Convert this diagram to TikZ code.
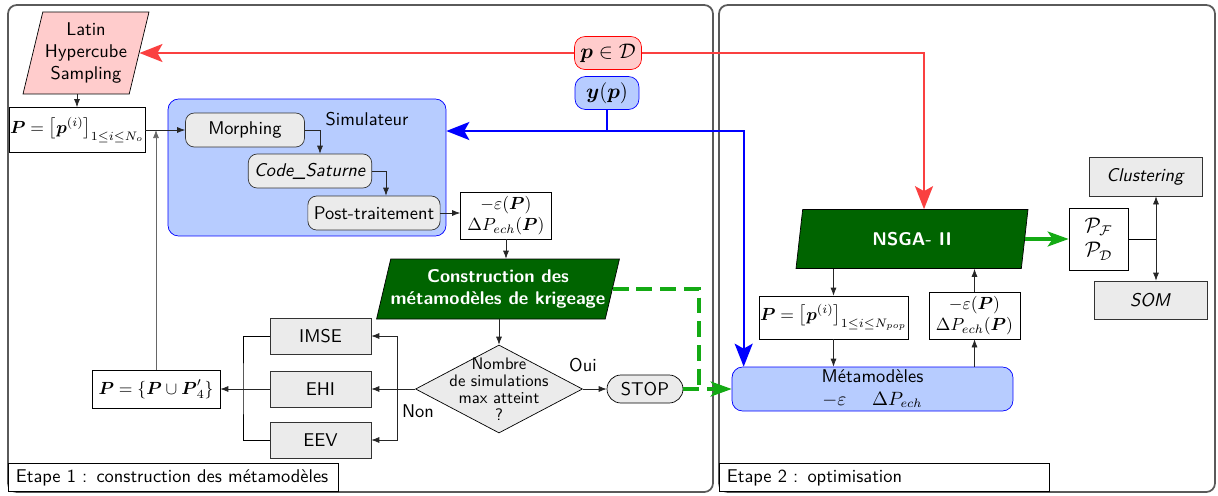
\documentclass[tikz,border=0pt]{standalone}
\usepackage{amsmath}
\usepackage{amssymb}
\usepackage{xcolor}
\usepackage{tikz}
\usetikzlibrary{shapes.geometric, arrows.meta, positioning, calc}

\definecolor{simblue}{RGB}{183,204,255}
\definecolor{lhsred}{RGB}{255,204,204}
\definecolor{redline}{RGB}{250,64,64}
\definecolor{darkgreen}{RGB}{0,100,0}
\definecolor{greenline}{RGB}{20,170,20}
\definecolor{framegray}{RGB}{90,90,90}
\newcommand{\diagfont}{\fontsize{10.5}{12.6}\selectfont\sffamily}

\begin{document}
\begin{tikzpicture}[x=0.02cm, y=-0.02cm, font=\diagfont]
    \tikzstyle{box} = [rectangle, draw=black, fill=white, text centered, inner sep=1pt]
    \tikzstyle{setbox} = [box, inner sep=0.5pt, font=\fontsize{10}{12}\selectfont]
    \tikzstyle{procbox} = [rectangle, rounded corners=5pt, draw=black!80, fill=black!8,
                           minimum height=0.68cm]
    \tikzstyle{graybox} = [rectangle, draw=black!80, fill=black!8,
                           minimum width=2.02cm, minimum height=0.72cm]
    \tikzstyle{greenpar} = [trapezium, trapezium stretches body, draw=black, fill=darkgreen,
                            text=white, font=\diagfont\bfseries, align=center, inner sep=0pt]
    \tikzstyle{bluebox} = [rectangle, rounded corners=6pt, draw=blue, fill=simblue]
    \tikzstyle{stageframe} = [draw=framegray, line width=1pt, rounded corners=5pt]
    \tikzstyle{stagelbl} = [rectangle, draw=black, fill=white, anchor=south west,
                            text width=6.3cm, align=left, inner xsep=0.15cm,
                            minimum height=0.5cm]
    \tikzstyle{arr} = [-{Latex[length=1.6mm,width=1.2mm]}, black!85]
    \tikzstyle{redarr} = [-{Stealth[length=4.6mm,width=3.6mm,inset=1mm]}, redline, line width=1.1pt]
    \tikzstyle{bluearr} = [-{Stealth[length=4.6mm,width=3.6mm,inset=1mm]}, blue, line width=1.2pt]
    \tikzstyle{greenarr} = [-{Stealth[length=4.2mm,width=3mm,inset=1mm]}, greenline, line width=1.8pt]
    \tikzstyle{gdash} = [greenline, line width=1.9pt, dash pattern=on 9pt off 4.5pt]

    \useasboundingbox (0,0) rectangle (1218,495);

    % cadres des deux etapes
    \draw[stageframe] (8,5) rectangle (713,492);
    \draw[stageframe] (719,5) rectangle (1215,492);
    \node (etape1) [stagelbl] at (8,492) {\mbox{Etape 1 : construction des métamodèles}};
    \node (etape2) [stagelbl] at (719,492) {Etape 2 : optimisation};

    % etape 1
    \node (LHS) [trapezium, trapezium left angle=72, trapezium right angle=108,
                 trapezium stretches body, draw=black, fill=lhsred, align=center,
                 inner sep=0pt, minimum width=2.52cm, minimum height=1.64cm]
                 at (86,53) {Latin\\Hypercube\\Sampling};
    \node (Pbox) [setbox, minimum width=2.62cm, minimum height=0.9cm] at (77,130)
          {$\boldsymbol{P}=\left[\boldsymbol{p}^{(i)}\right]_{1\leq i\leq N_o}$};
    \node (simu) [bluebox, minimum width=5.56cm, minimum height=2.74cm] at (307,167.5) {};
    \node (simlbl) at (367,119) {Simulateur};
    \node (morph) [procbox, minimum width=2.38cm] at (245,130) {Morphing};
    \node (code)  [procbox, minimum width=2.4cm]  at (310,171) {\textit{Code\_Saturne}};
    \node (post)  [procbox, minimum width=2.48cm] at (374,213) {Post-traitement};
    \node (epsa) [setbox, align=center, minimum width=1.82cm, minimum height=0.94cm] at (506,215.5)
          {$-\varepsilon(\boldsymbol{P})$\\$\Delta P_{ech}(\boldsymbol{P})$};
    \node (pD) [rectangle, rounded corners=6pt, draw=red, fill=lhsred, font=\large,
                minimum width=1.32cm, minimum height=0.66cm] at (608,53)
          {$\boldsymbol{p}\in\mathcal{D}$};
    \node (yp) [bluebox, font=\large, minimum width=1.28cm, minimum height=0.66cm] at (607,93)
          {$\boldsymbol{y}(\boldsymbol{p})$};
    \node (constr) [greenpar, trapezium left angle=70, trapezium right angle=110,
                    minimum width=4.72cm, minimum height=1.2cm] at (498,289)
          {Construction des\\métamodèles de krigeage};
    \node (diam) [diamond, draw=black, fill=black!8, inner sep=0pt,
                  minimum width=3.34cm, minimum height=1.76cm,
                  label={[font=\fontsize{9.5}{9.6}\selectfont\sffamily, align=center]center:{Nombre\\de simulations\\max atteint\\?}}]
                  at (499,389) {};
    \node (stop) [rectangle, rounded corners=2.8mm, draw=black, fill=black!8,
                  minimum width=1.52cm, minimum height=0.56cm] at (645,389) {STOP};
    \node (oui) at (583,365) {Oui};
    \node (non) at (418,411) {Non};
    \node (imse) [graybox] at (320.5,336) {IMSE};
    \node (ehi)  [graybox] at (320.5,389) {EHI};
    \node (eev)  [graybox] at (320.5,440) {EEV};
    \node (Pu) [setbox, minimum width=2.56cm, minimum height=0.76cm] at (156,389)
          {$\boldsymbol{P}=\{\boldsymbol{P}\cup\boldsymbol{P}'_4\}$};

    % etape 2
    \node (meta) [bluebox, align=center, minimum width=5.62cm, minimum height=0.88cm,
                  inner sep=1pt] at (872.5,389)
          {Métamodèles\\$-\varepsilon$\hspace{1.4em}$\Delta P_{ech}$};
    \node (NSGA) [greenpar, trapezium left angle=64, trapezium right angle=116,
                  minimum width=4.64cm, minimum height=1.18cm] at (912,239) {NSGA- II};
    \node (Ppop) [setbox, minimum width=2.94cm, minimum height=0.86cm] at (833.5,317.5)
          {$\boldsymbol{P}=\left[\boldsymbol{p}^{(i)}\right]_{1\leq i\leq N_{pop}}$};
    \node (epsb) [setbox, align=center, minimum width=1.82cm, minimum height=0.94cm] at (974.5,315.5)
          {$-\varepsilon(\boldsymbol{P})$\\$\Delta P_{ech}(\boldsymbol{P})$};
    \node (PF) [box, align=center, font=\large, minimum width=1.18cm, minimum height=1.24cm]
          at (1098.5,239) {$\mathcal{P}_{\mathcal{F}}$\\$\mathcal{P}_{\mathcal{D}}$};
    \node (clus) [graybox, minimum width=2.26cm, minimum height=0.78cm] at (1145.5,176.5)
          {\textit{Clustering}};
    \node (som)  [graybox, minimum width=2.26cm, minimum height=0.76cm] at (1150.5,300)
          {\textit{SOM}};

    % liaisons etape 1
    \draw[arr] (LHS.bottom side -| Pbox.north) -- (Pbox.north);
    \draw[arr] (Pbox) -- (morph);
    \draw[arr] (morph.east) -| ($(code.north)+(10,0)$);
    \draw[arr] (code.east) -| ($(post.north)+(12,0)$);
    \draw[arr] (post.east) -- (post.east -| epsa.west);
    \draw[arr] (epsa.south) -- (epsa.south |- constr.top side);
    \draw[arr] (constr.bottom side -| diam.north) -- (diam.north);
    \draw[arr] (diam) -- (stop);
    \draw[arr] (diam) -- (ehi);
    \coordinate (njoin) at (397,389);
    \draw[arr] (njoin) |- (imse.east);
    \draw[arr] (njoin) |- (eev.east);
    \coordinate (ljoin) at (243,389);
    \draw (imse.west) -| (ljoin) |- (eev.west);
    \draw[arr] (ehi) -- (Pu);
    \draw[arr, black!60] (Pu.north) -- (Pu.north |- Pbox.east);

    % entrees / sorties
    \draw[redarr] (pD) -- (LHS);
    \draw[redarr] (pD) -| ($(NSGA.north)+(12,0)$);
    \coordinate (yjoin) at (607,131);
    \draw[blue, line width=1.2pt] (yp.south) -- (yjoin);
    \draw[bluearr] (yjoin) -- (yjoin -| simu.east);
    \draw[bluearr] (yjoin) -| ($(meta.north west)+(12,0)$);
    \coordinate (gjoin) at (699,389);
    \draw[gdash] (constr.right side) -| (gjoin);
    \draw[gdash, -{Stealth[length=4.2mm,width=3mm,inset=1mm]}] (stop) -- (meta);

    % liaisons etape 2
    \draw[arr] (NSGA.bottom side -| Ppop.north) -- (Ppop.north);
    \draw[arr] (Ppop.south) -- (Ppop.south |- meta.north);
    \draw[arr] (meta.north -| epsb.south) -- (epsb.south);
    \draw[arr] (epsb.north) -- (epsb.north |- NSGA.bottom side);
    \draw[greenarr] (NSGA.right side) -- (NSGA.right side -| PF.west);
    \coordinate (pjoin) at (1156,239);
    \draw (PF.east) -- (pjoin);
    \draw[arr] (pjoin) -- (pjoin |- clus.south);
    \draw[arr] (pjoin) -- (pjoin |- som.north);
\end{tikzpicture}
\end{document}
